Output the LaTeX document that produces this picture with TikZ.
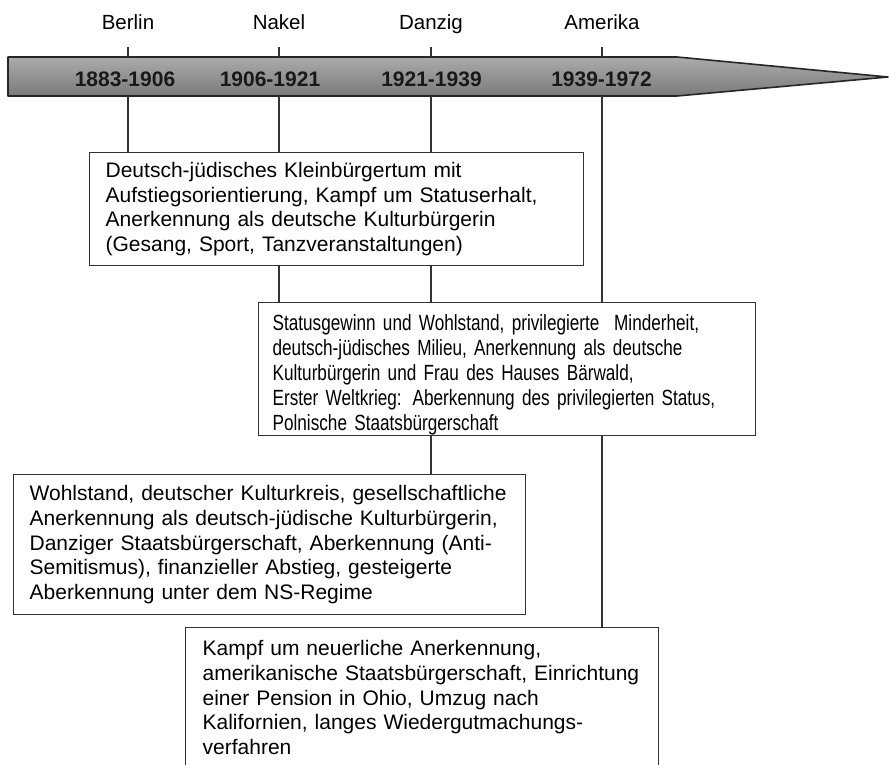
\documentclass[tikz,border=0pt]{standalone}
\usepackage{fontspec}
\setmainfont{Liberation Sans}
\newfontfamily\narrowfont[FakeStretch=0.78]{Liberation Sans}
\begin{document}
\begin{tikzpicture}[x=1pt,y=-1pt,
  place/.style={font=\fontsize{20.5}{24}\selectfont, anchor=base, inner sep=0pt},
  yearlbl/.style={font=\fontsize{21}{24}\selectfont\bfseries, anchor=base, inner sep=0pt, text=black!90},
  infobox/.style={draw=black!80, line width=1.3pt, fill=white, anchor=north west, align=left,
    inner xsep=16pt, inner ysep=0pt, font=\fontsize{21}{24.6}\selectfont},
  conn/.style={draw=black!80, line width=1.3pt}]
\clip (0,0) rectangle (889,765);

% arrow bar
\shade[top color=black!33, bottom color=black!52]
  (8,57) -- (677,57) -- (888,77) -- (677,96) -- (8,96) -- cycle;
\draw[black!85, line width=1.6pt, line join=round]
  (8,57) -- (677,57) -- (888,77) -- (677,96) -- (8,96) -- cycle;

% places
\node[place] (berlin) at (128,29.5) {Berlin};
\node[place] (nakel) at (279,29.5) {Nakel};
\node[place] (danzig) at (431,29.5) {Danzig};
\node[place] (amerika) at (602,29.5) {Amerika};

% years
\node[yearlbl] (y1) at (125,87) {1883-1906};
\node[yearlbl] (y2) at (270,87) {1906-1921};
\node[yearlbl] (y3) at (431.5,87) {1921-1939};
\node[yearlbl] (y4) at (601.5,87) {1939-1972};

% tick coordinates
\coordinate (kB) at (128,47); \coordinate (tB) at (128,57); \coordinate (bB) at (128,96);
\coordinate (kN) at (279,47); \coordinate (tN) at (279,57); \coordinate (bN) at (279,96);
\coordinate (kD) at (431,47); \coordinate (tD) at (431,57); \coordinate (bD) at (431,96);
\coordinate (kA) at (602,47); \coordinate (tA) at (602,57); \coordinate (bA) at (602,96);

% boxes
\node[infobox, text width=462pt, minimum height=113pt] (b1) at (89,152)
 {Deutsch-jüdisches Kleinbürgertum mit\\
  Aufstiegsorientierung, Kampf um Statuserhalt,\\
  Anerkennung als deutsche Kulturbürgerin\\
  (Gesang, Sport, Tanzveranstaltungen)};
\node[infobox, inner xsep=14pt, text width=469pt, minimum height=133pt,
      font=\narrowfont\fontsize{22}{25}\selectfont] (b2) at (258,302)
 {\rule{0pt}{28pt}Statusgewinn und Wohlstand, privilegierte\ \ Minderheit,\\
  deutsch-jüdisches Milieu, Anerkennung als deutsche\\
  Kulturbürgerin und Frau des Hauses Bärwald,\\
  Erster Weltkrieg: Aberkennung des privilegierten Status,\\
  Polnische Staatsbürgerschaft};
\node[infobox, text width=480pt, minimum height=140pt] (b3) at (13,474)
 {Wohlstand, deutscher Kulturkreis, gesellschaftliche\\
  Anerkennung als deutsch-jüdische Kulturbürgerin,\\
  Danziger Staatsbürgerschaft, Aberkennung (Anti-\\
  Semitismus), finanzieller Abstieg, gesteigerte\\
  Aberkennung unter dem NS-Regime};
\node[infobox, inner xsep=17pt, text width=439pt, minimum height=140pt] (b4) at (185,627)
 {Kampf um neuerliche Anerkennung,\\
  amerikanische Staatsbürgerschaft, Einrichtung\\
  einer Pension in Ohio, Umzug nach\\
  Kalifornien, langes Wiedergutmachungs-\\
  verfahren};

% connectors
\draw[conn] (kB) -- (tB);
\draw[conn] (kN) -- (tN);
\draw[conn] (kD) -- (tD);
\draw[conn] (kA) -- (tA);
\draw[conn] (bB) -- (bB |- b1.north);
\draw[conn] (bN) -- (bN |- b1.north);
\draw[conn] (bN |- b1.south) -- (bN |- b2.north);
\draw[conn] (bD) -- (bD |- b1.north);
\draw[conn] (bD |- b1.south) -- (bD |- b2.north);
\draw[conn] (bD |- b2.south) -- (bD |- b3.north);
\draw[conn] (bA) -- (bA |- b2.north);
\draw[conn] (bA |- b2.south) -- (bA |- b4.north);
\end{tikzpicture}
\end{document}
